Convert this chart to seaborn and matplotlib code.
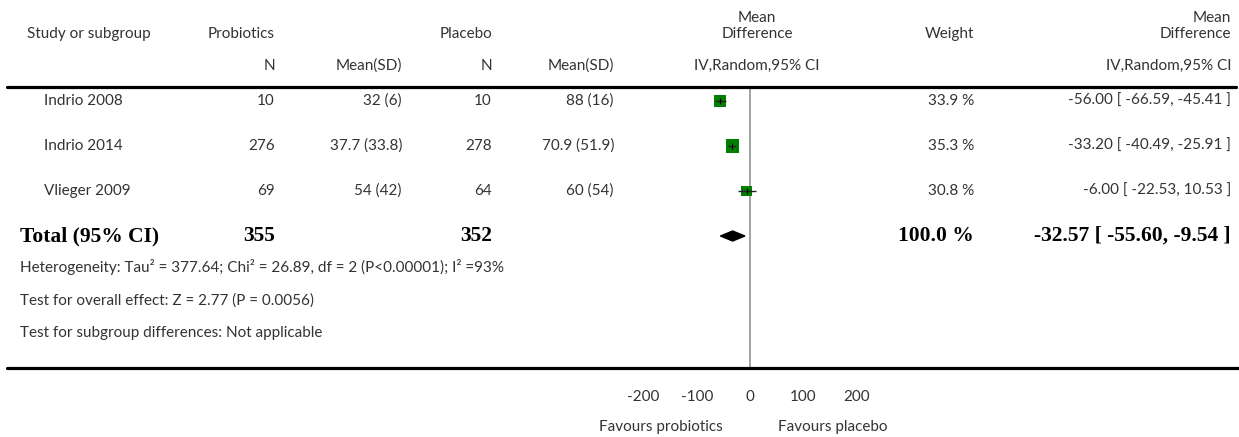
import numpy as np
import matplotlib
matplotlib.use("Agg")
import matplotlib.pyplot as plt
import matplotlib.transforms as mtransforms
from matplotlib.lines import Line2D
import seaborn as sns

# --- data ---
studies = ["Indrio 2008", "Indrio 2014", "Vlieger 2009"]
n_probiotics = [10, 276, 69]
mean_probiotics = [32, 37.7, 54]
sd_probiotics = [6, 33.8, 42]
n_placebo = [10, 278, 64]
mean_placebo = [88, 70.9, 60]
sd_placebo = [16, 51.9, 54]
md = [-56.00, -33.20, -6.00]
ci_low = [-66.59, -40.49, -22.53]
ci_high = [-45.41, -25.91, 10.53]
weights = [33.9, 35.3, 30.8]

total_n_probiotics = 355
total_n_placebo = 352
total_weight = 100.0
total_md = -32.57
total_ci = [-55.60, -9.54]

footnotes = [
    "Heterogeneity: Tau² = 377.64; Chi² = 26.89, df = 2 (P<0.00001); I² =93%",
    "Test for overall effect: Z = 2.77 (P = 0.0056)",
    "Test for subgroup differences: Not applicable",
]
xticks = [-200, -100, 0, 100, 200]
favours = ["Favours probiotics", "Favours placebo"]

# --- style ---
sns.set_style("white")
plt.rcParams["font.family"] = ["Lato", "DejaVu Sans"]
TXT = "#333333"
BODY = 11
BOLD_FONT = {"family": "Liberation Serif", "weight": "bold", "size": 15.5}

W, H = 1239, 437
fig = plt.figure(figsize=(W / 100, H / 100), dpi=100)


def fx(px):
    return px / W


def fy(py):
    return 1 - py / H


# column anchors (pixels)
X_NAME, X_LEFT = 44, 20
X_N1, X_M1, X_N2, X_M2 = 275, 402, 492, 614
X_FOREST, X_W, X_CI = 757, 974, 1231

# forest axes: 0 -> x=750px, 200 -> x=857px
ppu = (857 - 644) / 400.0
left_px, right_px = 600, 900
top_px, bottom_px = 88, 368
row0_px, row_step = 101, 45.0
ax = fig.add_axes([fx(left_px), fy(bottom_px), (right_px - left_px) / W, (bottom_px - top_px) / H])
ax.set_xlim((left_px - 750) / ppu, (right_px - 750) / ppu)
ax.set_ylim((bottom_px - row0_px) / row_step, (top_px - row0_px) / row_step)

rows = np.arange(len(studies))
total_row = len(studies)

ax.axvline(0, color="#8a8a8a", lw=1.1, zorder=1)

df = {"md": md, "row": rows, "weight": weights}
sns.scatterplot(x="md", y="row", size="weight", data=df, sizes=(62, 88), marker="s",
                color="#008000", edgecolor="none", legend=False, ax=ax, zorder=2)
ax.hlines(rows, ci_low, ci_high, color="#222222", lw=1.0, zorder=3)
ax.scatter(md, rows, marker="|", s=18, color="black", linewidths=0.9, zorder=4)

# pooled diamond
dh = 5 / row_step
ax.fill([total_ci[0], total_md, total_ci[1], total_md],
        [total_row, total_row - dh, total_row, total_row + dh], color="black", zorder=3)

for side in ["top", "right", "left", "bottom"]:
    ax.spines[side].set_visible(False)
ax.set_yticks([])
ax.set_xticks(xticks)
ax.set_xticklabels([str(t) for t in xticks])
ax.tick_params(axis="x", direction="in", length=5, width=2, color="black", pad=16,
               labelsize=BODY, labelcolor=TXT)
ax.set_xlabel("")
ax.set_ylabel("")
ax.patch.set_alpha(0)

# horizontal rules
fig.add_artist(Line2D([fx(7), fx(1236)], [fy(87), fy(87)], color="black", lw=2.3))
fig.add_artist(Line2D([fx(7), fx(1239)], [fy(368), fy(368)], color="black", lw=2.3))

# --- header ---
hdr = dict(color=TXT, fontsize=BODY, va="center")
fig.text(fx(27), fy(34), "Study or subgroup", ha="left", **hdr)
fig.text(fx(X_N1), fy(34), "Probiotics", ha="right", **hdr)
fig.text(fx(X_N2), fy(34), "Placebo", ha="right", **hdr)
fig.text(fx(X_FOREST), fy(18), "Mean", ha="center", **hdr)
fig.text(fx(X_FOREST), fy(34), "Difference", ha="center", **hdr)
fig.text(fx(X_W), fy(34), "Weight", ha="right", **hdr)
fig.text(fx(X_CI), fy(18), "Mean", ha="right", **hdr)
fig.text(fx(X_CI), fy(34), "Difference", ha="right", **hdr)
fig.text(fx(X_N1), fy(66), "N", ha="right", **hdr)
fig.text(fx(X_M1), fy(66), "Mean(SD)", ha="right", **hdr)
fig.text(fx(X_N2), fy(66), "N", ha="right", **hdr)
fig.text(fx(X_M2), fy(66), "Mean(SD)", ha="right", **hdr)
fig.text(fx(X_FOREST), fy(66), "IV,Random,95% CI", ha="center", **hdr)
fig.text(fx(X_CI), fy(66), "IV,Random,95% CI", ha="right", **hdr)

# --- study rows (x in figure pixels, y in row units) ---
tr = mtransforms.blended_transform_factory(fig.transFigure, ax.transData)
row_kw = dict(color=TXT, fontsize=BODY, va="center", transform=tr)
for i, name in enumerate(studies):
    fig.text(fx(X_NAME), i, name, ha="left", **row_kw)
    fig.text(fx(X_N1), i, f"{n_probiotics[i]}", ha="right", **row_kw)
    fig.text(fx(X_M1), i, f"{mean_probiotics[i]:g} ({sd_probiotics[i]:g})", ha="right", **row_kw)
    fig.text(fx(X_N2), i, f"{n_placebo[i]}", ha="right", **row_kw)
    fig.text(fx(X_M2), i, f"{mean_placebo[i]:g} ({sd_placebo[i]:g})", ha="right", **row_kw)
    fig.text(fx(X_W), i, f"{weights[i]:.1f} %", ha="right", **row_kw)
    fig.text(fx(X_CI), i, f"{md[i]:.2f} [ {ci_low[i]:.2f}, {ci_high[i]:.2f} ]", ha="right", **row_kw)

tot_kw = dict(color="black", va="center", transform=tr, fontdict=BOLD_FONT)
fig.text(fx(X_LEFT), total_row, "Total (95% CI)", ha="left", **tot_kw)
fig.text(fx(X_N1), total_row, f"{total_n_probiotics}", ha="right", **tot_kw)
fig.text(fx(X_N2), total_row, f"{total_n_placebo}", ha="right", **tot_kw)
fig.text(fx(X_W), total_row, f"{total_weight:.1f} %", ha="right", **tot_kw)
fig.text(fx(X_CI), total_row, f"{total_md:.2f} [ {total_ci[0]:.2f}, {total_ci[1]:.2f} ]",
         ha="right", **tot_kw)

for py, note in zip([267, 301, 333], footnotes):
    fig.text(fx(X_LEFT), fy(py), note, ha="left", va="center", color=TXT, fontsize=BODY)

fig.text(fx(723), fy(427), favours[0], ha="right", va="center", color=TXT, fontsize=BODY)
fig.text(fx(778), fy(427), favours[1], ha="left", va="center", color=TXT, fontsize=BODY)

fig.savefig("out.png", dpi=100, facecolor="white")
